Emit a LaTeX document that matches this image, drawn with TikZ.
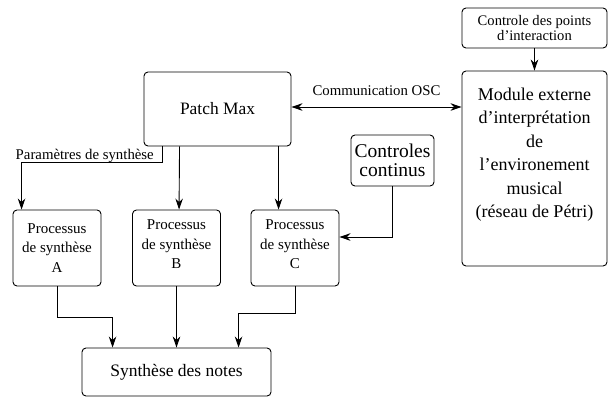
\documentclass[tikz,border=0pt]{standalone}
\usepackage{fontspec}
\setmainfont{Liberation Serif}
\usetikzlibrary{arrows.meta}

\begin{document}
\begin{tikzpicture}[x=1pt,y=-1pt,
		boite/.style={draw, rounded corners=4pt, line width=0.9pt, align=center, inner sep=0pt},
		proc/.style={boite, minimum width=88pt, minimum height=76pt, font=\fontsize{15}{19.5}\selectfont},
		fleche/.style={line width=0.9pt, -{Stealth[length=11pt,width=7.5pt,inset=3.5pt]}},
		lien/.style={line width=0.9pt, {Stealth[length=11pt,width=7.5pt,inset=3.5pt]}-{Stealth[length=11pt,width=7.5pt,inset=3.5pt]}},
		etiq/.style={inner sep=0pt, font=\fontsize{14.8}{16}\selectfont}]
	\useasboundingbox (0,0) rectangle (608,397);
	% boites
	\node[boite, minimum width=147pt, minimum height=74pt, font=\fontsize{17.4}{20}\selectfont] (patch) at (217.5,109) {Patch Max};
	\node[proc] (procA) at (57,248) {Processus\\de synthèse\\A};
	\node[proc] (procB) at (176.5,248) {Processus\\de synthèse\\B\\[-12pt]\mbox{}};
	\node[proc] (procC) at (295,248) {Processus\\de synthèse\\C\\[-12pt]\mbox{}};
	\node[boite, minimum width=189pt, minimum height=48pt, font=\fontsize{17.5}{20}\selectfont] (synth) at (176.5,372) {Synthèse des notes};
	\node[boite, minimum width=83pt, minimum height=51pt, font=\fontsize{19.5}{18.5}\selectfont] (cont) at (392.5,160.5) {Controles\\continus};
	\node[boite, minimum width=145pt, minimum height=40pt, font=\fontsize{14.6}{12}\selectfont] (ctrl) at (534.5,28) {Controle des points\\d’interaction};
	\node[boite, minimum width=145pt, minimum height=195pt, font=\fontsize{18}{23.5}\selectfont] (module) at (534.5,168.5)
		{Module externe\\d’interprétation\\de\\l’environement\\musical\\(réseau de Pétri)\\[8pt]\mbox{}};
	% etiquettes
	\node[etiq, anchor=base east] (param) at (154,159) {Paramètres de synthèse};
	\node[etiq, anchor=base] (osc) at (376.5,95) {Communication OSC};
	% fleches
	\draw[fleche] ([xshift=19pt]patch.south west) -- ++(0,16) -| ([xshift=9pt]procA.north west);
	\draw[fleche] ([xshift=36pt]patch.south west) -- ([xshift=47pt]procB.north west);
	\draw[fleche] ([xshift=135pt]patch.south west) -- ([xshift=28pt]procC.north west);
	\draw[lien] ([yshift=2pt]patch.east) -- ([yshift=2pt]patch.east -| module.west);
	\draw[fleche] (ctrl.south) -- (module.north);
	\draw[fleche] (cont.south) |- ([yshift=11pt]procC.east);
	\draw[fleche] (procA.south) -- ++(0,31) -| ([xshift=31pt]synth.north west);
	\draw[fleche] (procB.south) -- (synth.north);
	\draw[fleche] (procC.south) -- ++(0,27) -| ([xshift=157pt]synth.north west);
\end{tikzpicture}
\end{document}
